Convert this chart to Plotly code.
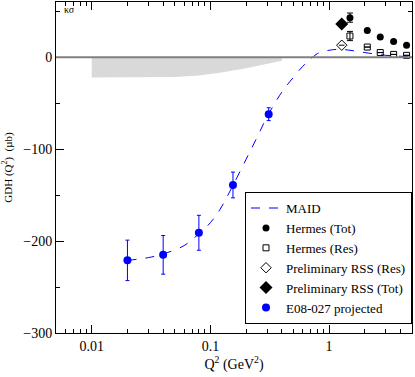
import math
import plotly.graph_objects as go

# projected E08-027 points
e08_q2 = [0.02, 0.04, 0.08, 0.155, 0.31]
e08_gdh = [-221, -215, -191, -139, -62]
e08_err = [22, 21, 19, 14, 7]

# MAID curve
maid_q2 = [0.02, 0.03, 0.04, 0.06, 0.08, 0.1, 0.12, 0.15, 0.2, 0.25, 0.3,
           0.4, 0.5, 0.6, 0.7, 0.8, 1.0, 1.2, 1.5, 2.0, 3.0, 4.0, 5.0]
maid_gdh = [-221, -218, -214, -205, -192, -180, -166, -143, -111, -86, -65,
            -38, -22, -10, -2, 4, 7.5, 8.5, 7.5, 5, 2, 1, 0.5]

# grey systematic band
band_q2 = [0.01, 0.03, 0.05, 0.08, 0.12, 0.2, 0.3, 0.4]
band_low = [-22, -22, -21.5, -20, -17, -12, -7, -4]

hermes_q2 = [1.5, 2.1, 2.7, 3.5, 4.5]
hermes_tot = [43, 29, 22, 17, 13]
hermes_tot_err = [5, 0, 0, 0, 0]
hermes_res = [23, 11, 5, 3, 2]
hermes_res_err = [5, 0, 0, 0, 0]

rss_q2 = [1.28]
rss_q2_err = [0.07]
rss_res = [13]
rss_tot = [36]

gdh_q0 = [0.005]
gdh_sum = [-204]

BLUE = "#0000ff"
SERIF = "Liberation Serif, Times New Roman, DejaVu Serif, serif"

fig = go.Figure()

# band
fig.add_trace(go.Scatter(
    x=band_q2 + band_q2[::-1], y=band_low + [0] * len(band_q2),
    fill="toself", fillcolor="#d9d9d9", line=dict(width=0),
    mode="lines", hoverinfo="skip", showlegend=False,
))
# zero line
fig.add_hline(y=0, line=dict(color="#808080", width=2))

fig.add_trace(go.Scatter(
    x=maid_q2, y=maid_gdh, mode="lines", name="MAID",
    line=dict(color=BLUE, width=1, dash="dash", shape="spline"),
))
fig.add_trace(go.Scatter(
    x=hermes_q2, y=hermes_tot, mode="markers", name="Hermes (Tot)",
    marker=dict(symbol="circle", size=7, color="black"),
    error_y=dict(array=hermes_tot_err, color="black", width=3, thickness=1),
))
fig.add_trace(go.Scatter(
    x=hermes_q2, y=hermes_res, mode="markers", name="Hermes (Res)",
    marker=dict(symbol="square-open", size=6, color="black", line=dict(width=1)),
    error_y=dict(array=hermes_res_err, color="black", width=3, thickness=1),
))
fig.add_trace(go.Scatter(
    x=rss_q2, y=rss_res, mode="markers", name="Preliminary RSS (Res)",
    marker=dict(symbol="diamond-open", size=8, color="black", line=dict(width=1)),
    error_x=dict(array=rss_q2_err, color="black", width=0, thickness=1),
))
fig.add_trace(go.Scatter(
    x=rss_q2, y=rss_tot, mode="markers", name="Preliminary RSS (Tot)",
    marker=dict(symbol="diamond", size=10, color="black"),
    error_x=dict(array=rss_q2_err, color="black", width=0, thickness=1),
))
fig.add_trace(go.Scatter(
    x=e08_q2, y=e08_gdh, mode="markers", name="E08-027 projected",
    marker=dict(symbol="circle", size=8, color=BLUE),
    error_y=dict(array=e08_err, color=BLUE, width=2, thickness=1),
))
fig.add_trace(go.Scatter(
    x=gdh_q0, y=gdh_sum, mode="markers", showlegend=False, cliponaxis=False,
    marker=dict(symbol="asterisk-open", size=13, color="black", line=dict(width=1.5, color="black")),
))

fig.add_annotation(x=math.log10(0.0056), y=52, text="κσ", showarrow=False, xanchor="left",
                   font=dict(family=SERIF, size=10, color="black"))

minor_vals = [m * 10 ** d for d in range(-3, 1) for m in range(2, 10)]
axis_common = dict(
    showline=True, linecolor="black", linewidth=1, mirror="allticks",
    ticks="inside", ticklen=8, tickcolor="black", showgrid=False, zeroline=False,
    automargin=False, tickfont=dict(family=SERIF, size=14, color="black"),
)
fig.update_xaxes(
    type="log", range=[-2.301, 0.699], tickvals=[0.01, 0.1, 1], ticktext=["0.01", "0.1", "1"],
    minor=dict(ticks="inside", ticklen=4, tickcolor="black", tickvals=minor_vals, showgrid=False),
    title=dict(text="Q<sup>2</sup> (GeV<sup>2</sup>)", font=dict(family=SERIF, size=14, color="black"), standoff=2),
    **axis_common,
)
fig.update_yaxes(
    range=[-300, 60], tickvals=[-300, -200, -100, 0],
    minor=dict(ticks="inside", ticklen=4, tickcolor="black", dtick=50, showgrid=False),
    title=dict(text="GDH (Q<sup>2</sup>)  (µb)", font=dict(family=SERIF, size=11, color="black"), standoff=8),
    **axis_common,
)
fig.update_layout(
    width=415, height=377,
    margin=dict(l=56, r=3, t=2, b=44),
    paper_bgcolor="white", plot_bgcolor="white",
    font=dict(family=SERIF, color="black"),
    legend=dict(x=1, y=0.027, xanchor="right", yanchor="bottom",
                bordercolor="black", borderwidth=1, bgcolor="white",
                font=dict(family=SERIF, size=13), tracegroupgap=0, itemwidth=30),
)

# page body has an 8px default margin; drop it so the figure sits at 0,0
fig.write_html("out.html", config={"displayModeBar": False},
               post_script="document.body.style.margin='0';")
